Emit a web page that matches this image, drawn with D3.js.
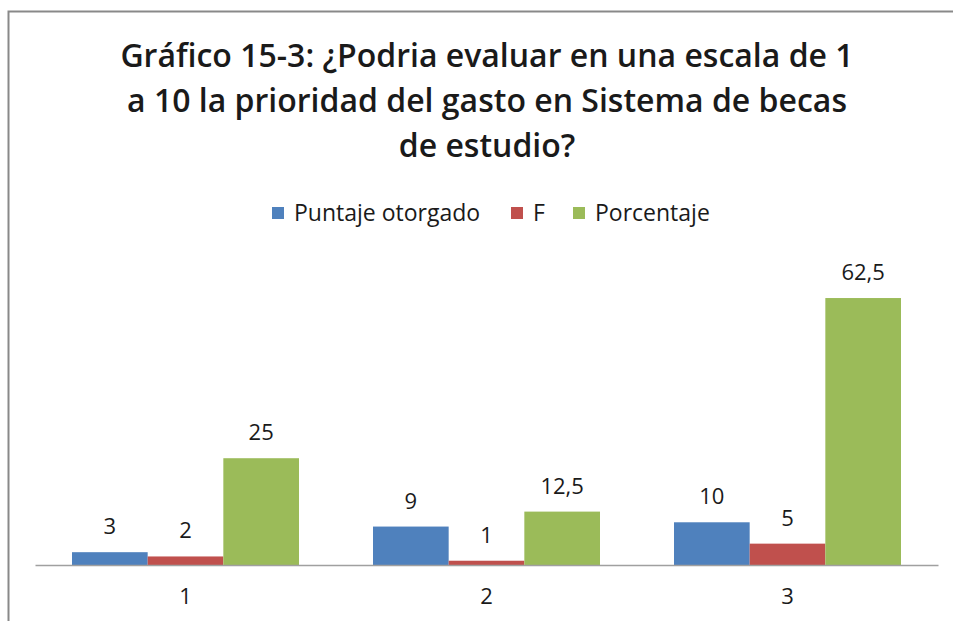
<!DOCTYPE html>
<html>
<head>
<meta charset="utf-8">
<script src="https://cdn.jsdelivr.net/npm/d3@7"></script>
<style>
  body { margin: 0; background: #fff; }
  text { font-family: "Open Sans", Lato, sans-serif; fill: #1a1a1a; }
</style>
</head>
<body>
<div id="chart"></div>
<script>
// Chart data
var categories = ["1", "2", "3"];
var seriesNames = ["Puntaje otorgado", "F", "Porcentaje"];
var puntaje = [3, 9, 10];
var frecuencia = [2, 1, 5];
var porcentaje = [25, 12.5, 62.5];
var labelText = [["3", "9", "10"], ["2", "1", "5"], ["25", "12,5", "62,5"]];
var titleLines = [
    "Gráfico 15-3: ¿Podria evaluar en una escala de 1",
    "a 10 la prioridad del gasto en Sistema de becas",
    "de estudio?"
];

var colors = ["#4f81bd", "#c0504d", "#9bbb59"];
var seriesValues = [puntaje, frecuencia, porcentaje];

var svgWidth = 953;
var svgHeight = 621;

var svg = d3.select("#chart")
    .append("svg")
    .attr("width", svgWidth)
    .attr("height", svgHeight);

// Outer chart frame
svg.append("rect")
    .attr("x", 8.5)
    .attr("y", 11.5)
    .attr("width", 960)
    .attr("height", 640)
    .attr("fill", "none")
    .attr("stroke", "#898989")
    .attr("stroke-width", 2);

// Title
svg.selectAll(".title")
    .data(titleLines)
    .enter()
    .append("text")
    .attr("class", "title")
    .attr("x", 487)
    .attr("y", (d, i) => 67 + i * 45)
    .attr("text-anchor", "middle")
    .attr("font-size", "32px")
    .attr("font-weight", "600")
    .text(d => d);

// Plot area
var margin = { left: 35, right: 15, top: 266, bottom: 56 };
var width = svgWidth - margin.left - margin.right;
var height = svgHeight - margin.top - margin.bottom;

var chartGroup = svg.append("g")
    .attr("transform", `translate(${margin.left}, ${margin.top})`);

var x0 = d3.scaleBand()
    .domain(categories)
    .range([0, width])
    .paddingInner(0)
    .paddingOuter(0);

var x1 = d3.scaleBand()
    .domain(seriesNames)
    .range([37, x0.bandwidth() - 37]);

var y = d3.scaleLinear()
    .domain([0, 70])
    .range([height, 0]);

var rows = [];
categories.forEach((c, i) => {
    seriesNames.forEach((s, j) => {
        rows.push({ cat: c, series: s, j: j, value: seriesValues[j][i], label: labelText[j][i] });
    });
});

chartGroup.selectAll(".bar")
    .data(rows)
    .enter()
    .append("rect")
    .attr("class", "bar")
    .attr("x", d => x0(d.cat) + x1(d.series))
    .attr("y", d => y(d.value))
    .attr("width", x1.bandwidth())
    .attr("height", d => height - y(d.value))
    .attr("fill", d => colors[d.j]);

chartGroup.selectAll(".val")
    .data(rows)
    .enter()
    .append("text")
    .attr("class", "val")
    .attr("x", d => x0(d.cat) + x1(d.series) + x1.bandwidth() / 2)
    .attr("y", d => y(d.value) - 18)
    .attr("text-anchor", "middle")
    .attr("font-size", "22px")
    .text(d => d.label);

// X axis
var xAxis = d3.axisBottom(x0).tickSize(0).tickPadding(23);
var xg = chartGroup.append("g")
    .attr("transform", `translate(0, ${height})`)
    .call(xAxis);
xg.select(".domain").attr("stroke", "#a0a0a0").attr("stroke-width", 1.5);
xg.selectAll("text")
    .attr("font-size", "22px")
    .attr("font-family", "'Open Sans', sans-serif")
    .attr("fill", "#1a1a1a");

// Legend
var legendX = [272, 511, 573];
var legend = svg.selectAll(".legend")
    .data(seriesNames)
    .enter()
    .append("g")
    .attr("class", "legend")
    .attr("transform", (d, i) => `translate(${legendX[i]}, 207)`);

legend.append("rect")
    .attr("width", 12)
    .attr("height", 12)
    .attr("fill", (d, i) => colors[i]);

legend.append("text")
    .attr("x", 22)
    .attr("y", 14)
    .attr("font-size", "23px")
    .text(d => d);
</script>
</body>
</html>
